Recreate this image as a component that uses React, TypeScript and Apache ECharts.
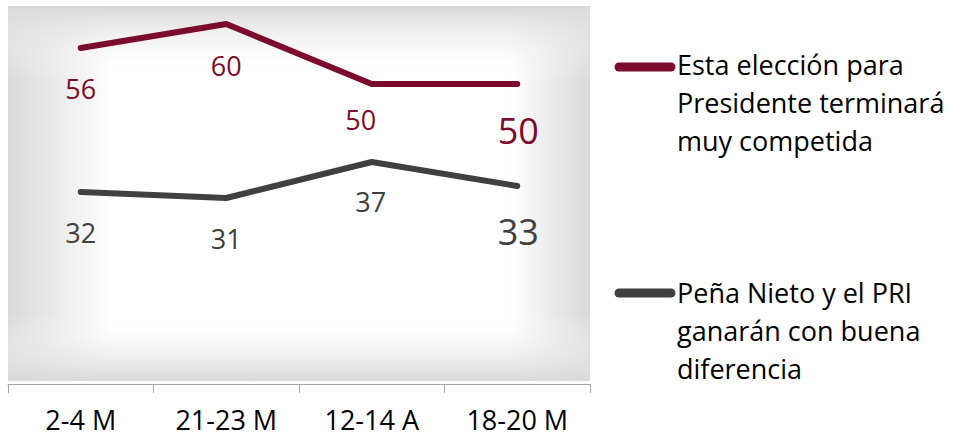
import React, { useEffect, useRef } from "react";
import * as echarts from "echarts";

const categories = ["2-4 M", "21-23 M", "12-14 A", "18-20 M"];
const competidaValues = [56, 60, 50, 50];
const penaNietoValues = [32, 31, 37, 33];
const seriesNames = [
  "Esta elección para\nPresidente terminará\nmuy competida",
  "Peña Nieto y el PRI\nganarán con buena\ndiferencia",
];

const RED = "#7B0C2E";
const GRAY = "#404040";
const FONT = "Open Sans";

const redOffsets = [[0, 40], [0, 41], [-11, 35], [1, 46]];
const grayOffsets = [[0, 40], [0, 40], [-1, 39], [1, 45]];
const labelSizes = [27, 27, 27, 36];

export default function App() {
  const ref = useRef<HTMLDivElement>(null);
  useEffect(() => {
    document.body.style.margin = "0";
    const chart = echarts.init(ref.current!, null, { renderer: "svg" });
    const mkData = (vals: number[], offs: number[][], color: string) =>
      vals.map((v, i) => ({
        value: v,
        label: { offset: offs[i], fontSize: labelSizes[i], color },
      }));
    const gl = 8, gt = 6, gw = 582, gh = 375;
    chart.setOption({
      animation: false,
      grid: { left: 8, right: 365, top: 6, bottom: 54 },
      xAxis: {
        type: "category",
        data: categories,
        boundaryGap: true,
        axisLine: { lineStyle: { color: "#a6a6a6", width: 1 } },
        axisTick: { show: true, length: 9, lineStyle: { color: "#a6a6a6" } },
        axisLabel: { margin: 21, fontSize: 27, lineHeight: 28, fontFamily: FONT, color: "#000" },
      },
      yAxis: {
        type: "value",
        min: 0,
        max: 63,
        show: false,
        splitLine: { show: false },
      },
      graphic: [
        {
          type: "rect",
          z: 0,
          silent: true,
          shape: { x: gl, y: gt, width: gw, height: gh },
          style: {
            fill: new echarts.graphic.LinearGradient(0, 0, 1, 0, [
              { offset: 0, color: "#d9d9d9" },
              { offset: 0.18, color: "#ffffff" },
              { offset: 0.86, color: "#ffffff" },
              { offset: 1, color: "#d9d9d9" },
            ]),
          },
        },
        {
          type: "rect",
          z: 0,
          silent: true,
          shape: { x: gl, y: gt, width: gw, height: gh },
          style: {
            fill: new echarts.graphic.LinearGradient(0, 0, 0, 1, [
              { offset: 0, color: "rgba(217,217,217,1)" },
              { offset: 0.2, color: "rgba(255,255,255,0)" },
              { offset: 0.82, color: "rgba(255,255,255,0)" },
              { offset: 1, color: "rgba(217,217,217,1)" },
            ]),
          },
        },
        {
          type: "line",
          shape: { x1: 619, y1: 67, x2: 671, y2: 67 },
          style: { stroke: RED, lineWidth: 9, lineCap: "round" },
        },
        {
          type: "text",
          x: 677,
          y: 45,
          style: {
            text: seriesNames[0],
            font: `27px "${FONT}"`,
            lineHeight: 38,
            fill: "#000",
            verticalAlign: "top",
          },
        },
        {
          type: "line",
          shape: { x1: 619, y1: 293, x2: 671, y2: 293 },
          style: { stroke: GRAY, lineWidth: 9, lineCap: "round" },
        },
        {
          type: "text",
          x: 677,
          y: 273,
          style: {
            text: seriesNames[1],
            font: `27px "${FONT}"`,
            lineHeight: 38,
            fill: "#000",
            verticalAlign: "top",
          },
        },
      ],
      series: [
        {
          name: seriesNames[0],
          type: "line",
          data: mkData(competidaValues, redOffsets, RED),
          symbol: "circle",
          symbolSize: 1,
          itemStyle: { color: RED },
          lineStyle: { color: RED, width: 6, cap: "round", join: "round" },
          label: { show: true, position: "inside", fontFamily: FONT },
          z: 3,
        },
        {
          name: seriesNames[1],
          type: "line",
          data: mkData(penaNietoValues, grayOffsets, GRAY),
          symbol: "circle",
          symbolSize: 1,
          itemStyle: { color: GRAY },
          lineStyle: { color: GRAY, width: 6, cap: "round", join: "round" },
          label: { show: true, position: "inside", fontFamily: FONT },
          z: 3,
        },
      ],
    });
    return () => chart.dispose();
  }, []);
  return <div ref={ref} style={{ width: 955, height: 438 }} />;
}
